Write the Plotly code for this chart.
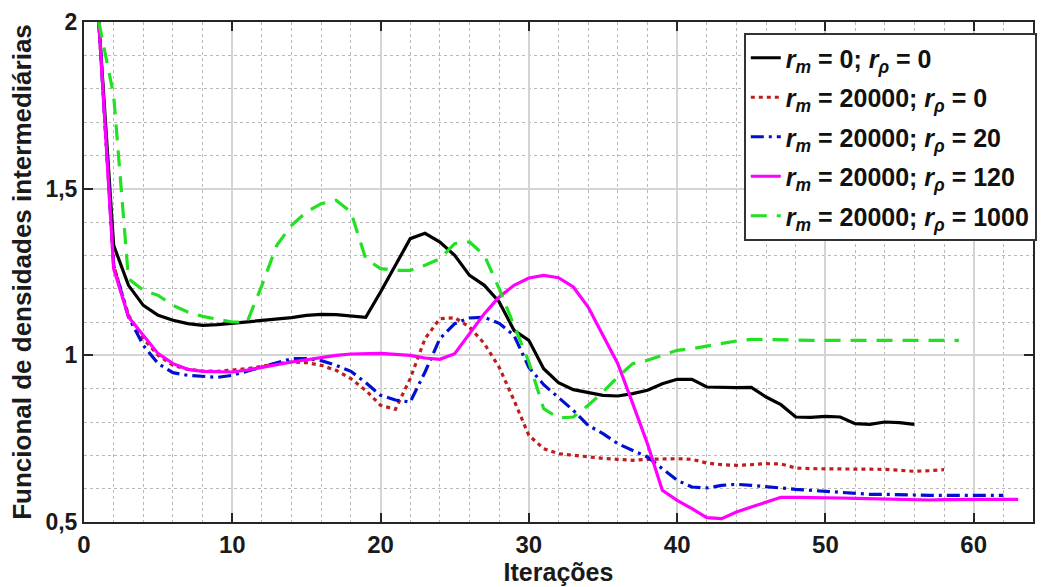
import plotly.graph_objects as go

# ---------------- data ----------------
it_black = list(range(1, 57))
y_black = [2.0, 1.33, 1.21, 1.15, 1.12, 1.105, 1.095, 1.09, 1.092, 1.096,
           1.10, 1.104, 1.108, 1.113, 1.12, 1.123, 1.122, 1.118, 1.114, 1.19,
           1.27, 1.35, 1.366, 1.34, 1.30, 1.24, 1.21, 1.16, 1.075, 1.045,
           0.96, 0.918, 0.897, 0.888, 0.88, 0.878, 0.885, 0.895, 0.915, 0.928,
           0.928, 0.905, 0.903, 0.903, 0.904, 0.875, 0.852, 0.815, 0.814, 0.817,
           0.815, 0.795, 0.793, 0.80, 0.798, 0.793]

it_red = list(range(1, 59))
y_red = [2.0, 1.27, 1.12, 1.05, 1.0, 0.97, 0.958, 0.953, 0.952, 0.955,
         0.96, 0.967, 0.975, 0.98, 0.978, 0.97, 0.955, 0.93, 0.895, 0.85,
         0.838, 0.93, 1.05, 1.11, 1.113, 1.085, 1.035, 0.964, 0.865, 0.76,
         0.72, 0.705, 0.70, 0.695, 0.691, 0.688, 0.685, 0.688, 0.69, 0.69,
         0.688, 0.677, 0.672, 0.670, 0.672, 0.675, 0.674, 0.662, 0.66, 0.66,
         0.66, 0.66, 0.66, 0.658, 0.655, 0.652, 0.654, 0.657]

it_blue = list(range(1, 63))
y_blue = [2.0, 1.27, 1.115, 1.03, 0.975, 0.948, 0.94, 0.936, 0.934, 0.94,
          0.952, 0.964, 0.977, 0.99, 0.99, 0.984, 0.97, 0.952, 0.918, 0.88,
          0.866, 0.86, 0.95, 1.05, 1.095, 1.112, 1.114, 1.096, 1.06, 0.964,
          0.912, 0.875, 0.835, 0.79, 0.765, 0.735, 0.715, 0.695, 0.66, 0.625,
          0.605, 0.602, 0.61, 0.613, 0.61, 0.607, 0.602, 0.598, 0.595, 0.592,
          0.59, 0.585, 0.583, 0.583, 0.583, 0.581, 0.58, 0.58, 0.58, 0.58,
          0.58, 0.58]

it_mag = list(range(1, 64))
y_mag = [2.0, 1.26, 1.115, 1.06, 1.005, 0.975, 0.958, 0.952, 0.95, 0.95,
         0.956, 0.963, 0.972, 0.98, 0.987, 0.995, 1.0, 1.004, 1.006, 1.006,
         1.003, 1.0, 0.992, 0.988, 1.005, 1.065, 1.125, 1.175, 1.21, 1.232,
         1.24, 1.233, 1.205, 1.145, 1.06, 0.975, 0.856, 0.735, 0.595, 0.565,
         0.54, 0.513, 0.51, 0.53, 0.545, 0.56, 0.574, 0.574, 0.574, 0.573,
         0.572, 0.571, 0.57, 0.568, 0.566, 0.565, 0.566, 0.567, 0.568, 0.568,
         0.568, 0.568, 0.568]

it_green = list(range(1, 60))
y_green = [2.0, 1.78, 1.23, 1.195, 1.18, 1.15, 1.13, 1.117, 1.108, 1.10,
           1.10, 1.21, 1.33, 1.39, 1.43, 1.455, 1.465, 1.43, 1.29, 1.26,
           1.255, 1.255, 1.27, 1.29, 1.335, 1.34, 1.30, 1.20, 1.09, 0.98,
           0.84, 0.812, 0.815, 0.85, 0.89, 0.935, 0.975, 0.985, 1.0, 1.015,
           1.02, 1.028, 1.035, 1.043, 1.048, 1.048, 1.047, 1.046, 1.045, 1.045,
           1.045, 1.045, 1.045, 1.045, 1.045, 1.045, 1.045, 1.045, 1.045]

names = [
    "<i>r</i><sub><i>m</i></sub> = 0; <i>r</i><sub><i>ρ</i></sub> = 0",
    "<i>r</i><sub><i>m</i></sub> = 20000; <i>r</i><sub><i>ρ</i></sub> = 0",
    "<i>r</i><sub><i>m</i></sub> = 20000; <i>r</i><sub><i>ρ</i></sub> = 20",
    "<i>r</i><sub><i>m</i></sub> = 20000; <i>r</i><sub><i>ρ</i></sub> = 120",
    "<i>r</i><sub><i>m</i></sub> = 20000; <i>r</i><sub><i>ρ</i></sub> = 1000",
]

x_ticks = [0, 10, 20, 30, 40, 50, 60]
y_ticks = [0.5, 1, 1.5, 2]

# ---------------- figure ----------------
FONT = "Arial, Liberation Sans, sans-serif"
fig = go.Figure()

series = [
    (it_black, y_black, "#000000", "solid"),
    (it_red, y_red, "#c01e1e", "4px,4px"),
    (it_blue, y_blue, "#0010d0", "13px,5px,3px,5px"),
    (it_mag, y_mag, "#ff00ff", "solid"),
    (it_green, y_green, "#22e022", "16px,10px"),
]
for i, ((xs, ys, col, dash), nm) in enumerate(zip(series, names)):
    fig.add_trace(go.Scatter(x=xs, y=ys, mode="lines", name=nm,
                             legendgroup=f"g{i}",
                             line=dict(color=col, width=3.2, dash=dash)))

fig.update_layout(
    width=1043, height=587,
    margin=dict(l=84, r=6, t=22, b=65),
    paper_bgcolor="white", plot_bgcolor="white",
    separators=",.",
    font=dict(family=FONT, size=23, color="#1a1a1a", weight="bold"),
    showlegend=True,
    legend=dict(x=1.004, y=0.978, xanchor="right", yanchor="top",
                bgcolor="white", bordercolor="#333333", borderwidth=2,
                font=dict(family=FONT, size=25, color="#111111", weight="bold"),
                itemwidth=30, tracegroupgap=4),
)

common = dict(showline=True, linecolor="#262626", linewidth=2, mirror="ticks",
              ticks="inside", ticklen=9, tickwidth=2, tickcolor="#262626",
              showgrid=True, gridcolor="#d4d4d4", gridwidth=1.5, zeroline=False)

fig.update_xaxes(range=[0, 64], tickvals=x_ticks,
                 title=dict(text="Iterações", font=dict(size=25, family=FONT, weight="bold"), standoff=4),
                 tickfont=dict(size=24, family=FONT, weight="bold"),
                 minor=dict(dtick=2, tick0=0, showgrid=True, gridcolor="#b8b8b8",
                            griddash="dot", gridwidth=1.2),
                 **common)
fig.update_yaxes(range=[0.5, 2], tickvals=y_ticks,
                 title=dict(text="Funcional de densidades intermediárias",
                            font=dict(size=26, family=FONT, weight="bold"), standoff=6),
                 tickfont=dict(size=23, family=FONT, weight="bold"),
                 minor=dict(dtick=0.1, tick0=0.5, showgrid=True, gridcolor="#b8b8b8",
                            griddash="dot", gridwidth=1.2),
                 **common)

fig.write_html("out.html")
